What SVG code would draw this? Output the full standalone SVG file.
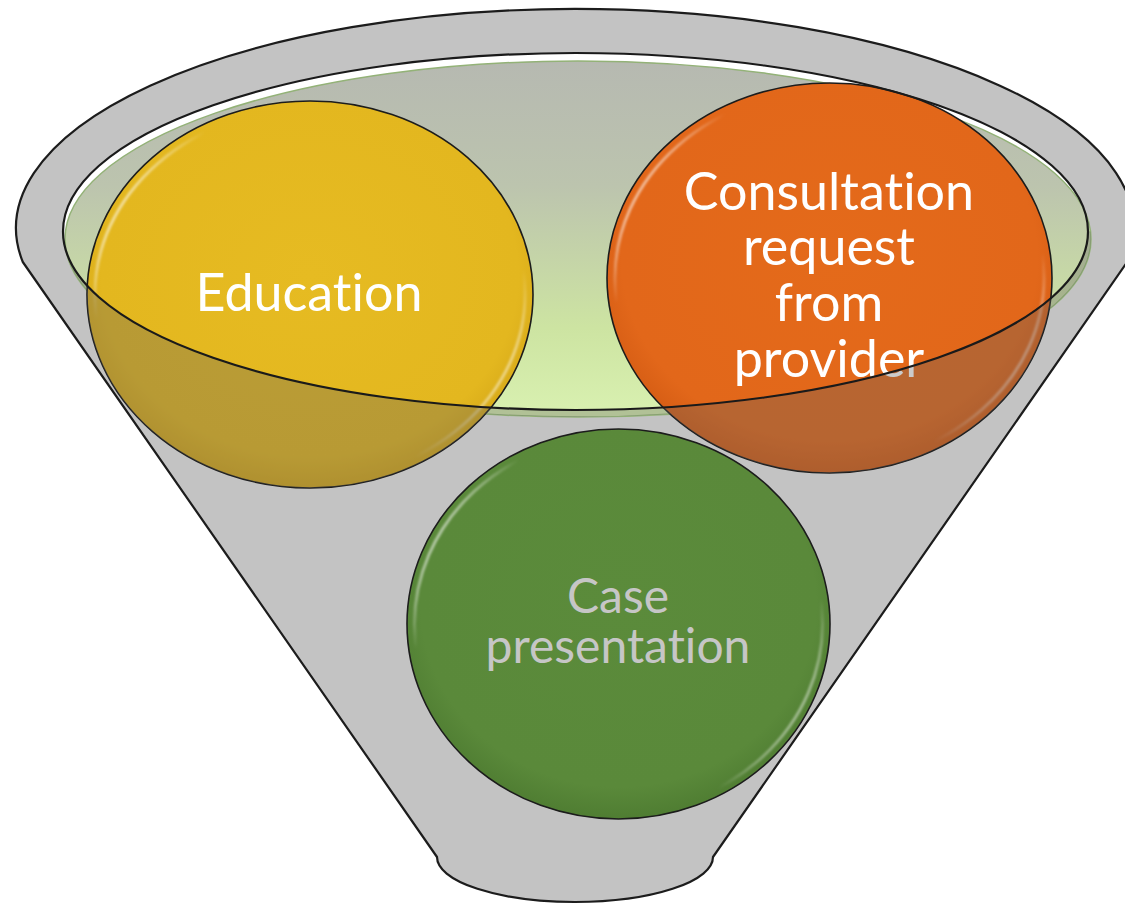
<svg xmlns="http://www.w3.org/2000/svg" width="1125" height="905" viewBox="0 0 1125 905">
  <defs>
    <style>
      .outline { fill: none; stroke: #1c1c1c; stroke-width: 2.2; stroke-linejoin: round; }
      .node-edge { stroke: #1c1c1c; stroke-width: 1.6; }
      .lbl { font-family: Lato, "Open Sans", "Liberation Sans", sans-serif; text-anchor: middle; font-variant-ligatures: none; font-feature-settings: "liga" 0, "clig" 0; }
      .lbl-white { fill: #ffffff; font-size: 52px; }
      .lbl-gray { fill: #c6c6c6; font-size: 48px; }
      .bevel { fill: none; stroke: url(#hl); stroke-width: 3; filter: url(#soft); }
    </style>
    <linearGradient id="mouth" x1="0" y1="0" x2="0" y2="1">
      <stop offset="0" stop-color="#b6b9b1"/>
      <stop offset="0.35" stop-color="#bcc4ae"/>
      <stop offset="0.75" stop-color="#cde4a2"/>
      <stop offset="1" stop-color="#d9f1b1"/>
    </linearGradient>
    <radialGradient id="gEdu" cx="0.5" cy="0.45" r="0.55">
      <stop offset="0" stop-color="#e6bb22"/>
      <stop offset="0.85" stop-color="#e3b71f"/>
      <stop offset="1" stop-color="#d6a818"/>
    </radialGradient>
    <radialGradient id="gCon" cx="0.5" cy="0.45" r="0.55">
      <stop offset="0" stop-color="#e46a1a"/>
      <stop offset="0.85" stop-color="#e2671a"/>
      <stop offset="1" stop-color="#d45c14"/>
    </radialGradient>
    <radialGradient id="gCase" cx="0.5" cy="0.45" r="0.55">
      <stop offset="0" stop-color="#5b8b3b"/>
      <stop offset="0.85" stop-color="#5a893a"/>
      <stop offset="1" stop-color="#4f7d32"/>
    </radialGradient>
    <linearGradient id="hl" x1="0" y1="0.25" x2="1" y2="0.75">
      <stop offset="0" stop-color="#ffffff" stop-opacity="0.9"/>
      <stop offset="0.13" stop-color="#ffffff" stop-opacity="0"/>
      <stop offset="0.87" stop-color="#ffffff" stop-opacity="0"/>
      <stop offset="1" stop-color="#ffffff" stop-opacity="0.75"/>
    </linearGradient>
    <filter id="soft" x="-5%" y="-5%" width="110%" height="110%">
      <feGaussianBlur stdDeviation="0.8"/>
    </filter>
    <clipPath id="frontClip">
      <ellipse cx="310" cy="294.5" rx="223" ry="193.5"/>
      <ellipse cx="829.5" cy="278" rx="222.5" ry="195"/>
      <ellipse cx="578" cy="239" rx="513" ry="178"/>
    </clipPath>
  </defs>

  <g id="funnel-back">
    <path d="M22.8,262 L437,857 A138,45 0 0 0 713,857 L1127.2,262 A559,219 0 1 0 22.8,262 Z" fill="#c3c3c3"/>
    <path class="outline" d="M22.8,262 L437,857 A138,45 0 0 0 713,857 L1127.2,262 A559,219 0 1 0 22.8,262 Z"/>
    <ellipse cx="575.5" cy="231.5" rx="512.5" ry="178.5" fill="#ffffff"/>
    <ellipse cx="578" cy="239" rx="513" ry="178" fill="url(#mouth)" stroke="#93b277" stroke-width="1.5"/>
  </g>

  <g id="node-education">
    <ellipse class="node-edge" cx="310" cy="294.5" rx="223" ry="193.5" fill="url(#gEdu)"/>
    <ellipse class="bevel" cx="310" cy="294.5" rx="215" ry="185.5"/>
    <text class="lbl lbl-white" x="309" y="311">Education</text>
  </g>

  <g id="node-consultation">
    <ellipse class="node-edge" cx="829.5" cy="278" rx="222.5" ry="195" fill="url(#gCon)"/>
    <ellipse class="bevel" cx="829.5" cy="278" rx="214.5" ry="187"/>
    <text class="lbl lbl-white" x="829" y="210">Consultation</text>
    <text class="lbl lbl-white" x="829" y="265">request</text>
    <text class="lbl lbl-white" x="829" y="321">from</text>
    <text class="lbl lbl-white" x="829" y="377">provider</text>
  </g>

  <g id="funnel-front">
    <path clip-path="url(#frontClip)" d="M63,231.5 A512.5,178.5 0 0 0 1088,231.5 L1125,231.5 L1125,905 L0,905 L0,231.5 Z" fill="#606060" fill-opacity="0.33"/>
    <ellipse cx="575.5" cy="231.5" rx="512.5" ry="178.5" fill="none" stroke="#1a1a1a" stroke-width="2.2"/>
  </g>

  <g id="node-case">
    <ellipse class="node-edge" cx="618.5" cy="624" rx="211.5" ry="195" fill="url(#gCase)"/>
    <ellipse class="bevel" cx="618.5" cy="624" rx="204" ry="187.5"/>
    <text class="lbl lbl-gray" x="618" y="613">Case</text>
    <text class="lbl lbl-gray" x="618" y="663">presentation</text>
  </g>

  <g id="connectors"/>
</svg>
